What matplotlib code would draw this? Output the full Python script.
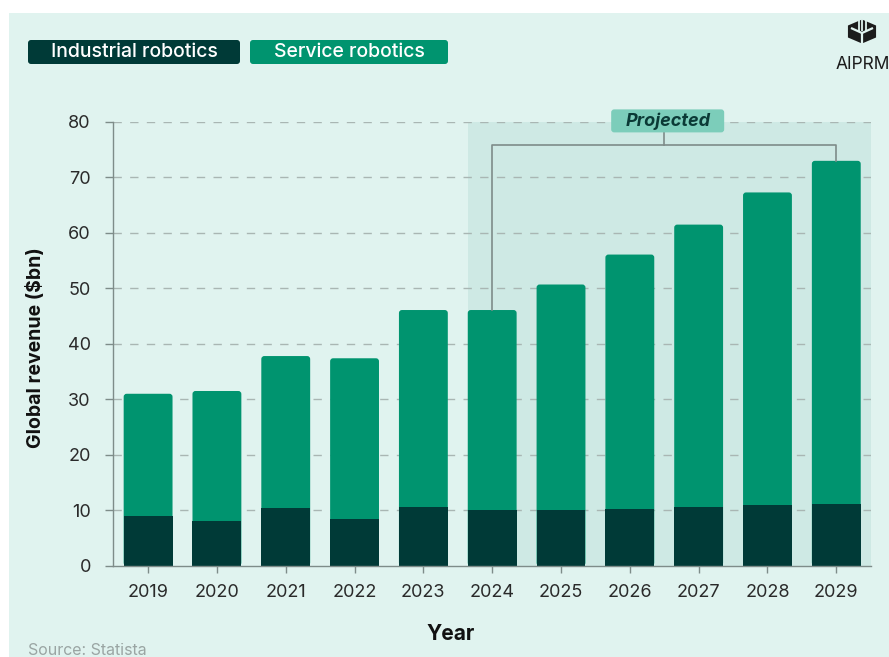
import numpy as np
import matplotlib.pyplot as plt
from matplotlib.patches import FancyBboxPatch, Rectangle, RegularPolygon

plt.rcParams['font.family'] = ['Inter', 'Liberation Sans', 'DejaVu Sans']

# revenue in $bn, read per year
years = ['2019', '2020', '2021', '2022', '2023', '2024', '2025', '2026', '2027', '2028', '2029']
industrial = [9.0, 8.1, 10.4, 8.4, 10.6, 10.0, 10.1, 10.3, 10.6, 10.9, 11.2]
service = [22.0, 23.4, 27.4, 29.0, 35.5, 36.1, 40.6, 45.8, 50.9, 56.4, 61.8]
yticks = [0, 10, 20, 30, 40, 50, 60, 70, 80]
first_projected = '2024'

DARK = '#003a37'
GREEN = '#00946f'
BG = '#e0f3ef'
SHADE = '#cee9e4'
LINE = '#7e8c89'
W, H = 889, 657

fig = plt.figure(figsize=(W / 100, H / 100), dpi=100, facecolor='white')
fig.patches.append(Rectangle((9 / W, 0), 1, 1 - 13 / H, transform=fig.transFigure,
                             fc=BG, ec='none', zorder=-10))


def px_box(left, top, right, bottom, color, r=3):
    # rounded box given in pixel coords measured from the top-left corner
    x0, y0 = left / W, 1 - bottom / H
    p = FancyBboxPatch((x0, y0), (right - left) / W, (bottom - top) / H,
                       boxstyle=f'round,pad=0,rounding_size={r / W}',
                       mutation_aspect=W / H, transform=fig.transFigure,
                       fc=color, ec='none')
    fig.patches.append(p)


def px_line(xs, ys, color, lw):
    fig.lines.append(plt.Line2D([v / W for v in xs], [1 - v / H for v in ys],
                                transform=fig.transFigure, color=color, lw=lw,
                                solid_capstyle='butt'))


ax = fig.add_axes([113 / W, 1 - 565.7 / H, (870.7 - 113) / W, (565.7 - 122) / H])
ax.set_facecolor('none')
ax.set_xlim(-0.51, 10.5)
ax.set_ylim(0, 80)

x = np.arange(len(years))
ind = np.array(industrial)
tot = ind + np.array(service)
bw = 0.71

# projected period background
p0 = years.index(first_projected)
ax.axvspan(p0 - bw / 2, 10.5, color=SHADE, zorder=0, lw=0)

for v in yticks[1:]:
    ax.axhline(v, color='#a9b6b3', lw=1, ls=(0, (6, 6)), zorder=1)

# rounded top corners for the stacked bars
xpx = ax.bbox.width / (ax.get_xlim()[1] - ax.get_xlim()[0])
ypx = ax.bbox.height / 80
r = 3 / xpx
asp = (3 / ypx) / r
for i in x:
    ax.add_patch(FancyBboxPatch((i - bw / 2, 0), bw, tot[i],
                                boxstyle=f'round,pad=0,rounding_size={r}',
                                mutation_aspect=asp, fc=GREEN, ec='none', zorder=3))
ax.bar(x, ind, width=bw, color=DARK, zorder=4)

# bracket over projected years
yb = 75.8
ax.plot([p0, p0, x[-1], x[-1]], [tot[p0], yb, yb, tot[-1]], color=LINE, lw=1.2, zorder=5)
xm = (p0 + x[-1]) / 2
ax.plot([xm, xm], [yb, 78.3], color=LINE, lw=1.2, zorder=5)
bx_w = 113 / xpx
bx_h = 23 / ypx
ax.add_patch(FancyBboxPatch((xm + 0.05 - bx_w / 2, 80.2 - bx_h / 2), bx_w, bx_h,
                            boxstyle=f'round,pad=0,rounding_size={r}',
                            mutation_aspect=asp, fc='#7ccdba', ec='none',
                            zorder=6, clip_on=False))
ax.text(xm + 0.05, 80.2, 'Projected', ha='center', va='center', fontsize=13,
        weight='bold', style='italic', color='#0b3a36', zorder=7)

for s in ['top', 'right']:
    ax.spines[s].set_visible(False)
for s in ['left', 'bottom']:
    ax.spines[s].set_color(LINE)
    ax.spines[s].set_linewidth(1)
    ax.spines[s].set_zorder(5)

ax.set_xticks(x, years)
ax.set_yticks(yticks)
ax.tick_params(axis='x', length=5, width=1, color=LINE, pad=8, labelsize=13, labelcolor='#2a2a2a')
ax.tick_params(axis='y', length=6, width=1, color=LINE, pad=10, labelsize=13, labelcolor='#2a2a2a')

fig.text(36 / W, 1 - 348 / H, 'Global revenue ($bn)', rotation=90, ha='center', va='center',
         fontsize=14, weight='bold', color='#111111')
fig.text(451 / W, 1 - 634 / H, 'Year', ha='center', va='center', fontsize=15,
         weight='bold', color='#111111')
fig.text(28 / W, 1 - 655 / H, 'Source: Statista', ha='left', va='baseline',
         fontsize=11.5, color='#9aa5a3')

# legend chips
px_box(28, 40, 240, 64, DARK)
px_box(250, 40, 448, 64, GREEN)
fig.text(134 / W, 1 - 52 / H, 'Industrial robotics', ha='center', va='center',
         fontsize=14, weight='medium', color='white')
fig.text(349 / W, 1 - 52 / H, 'Service robotics', ha='center', va='center',
         fontsize=14, weight='medium', color='white')

# brand mark
fig.patches.append(RegularPolygon((862 / W, 1 - 31.5 / H), 6, radius=12 / H,
                                  orientation=0, transform=fig.transFigure,
                                  fc='#1c1c1c', ec='none'))
for dx in (-3.5, 0, 3.5):
    px_line([862 + dx, 862 + dx], [19, 31], BG, 1.3)
px_line([851, 862, 873], [28, 33, 28], BG, 1.6)
px_line([862, 862], [33, 45], BG, 1.6)
fig.text(836 / W, 1 - 69 / H, 'AIPRM', ha='left', va='baseline', fontsize=12.5, color='#1c1c1c')

fig.savefig('out.png', dpi=100, facecolor=fig.get_facecolor())
